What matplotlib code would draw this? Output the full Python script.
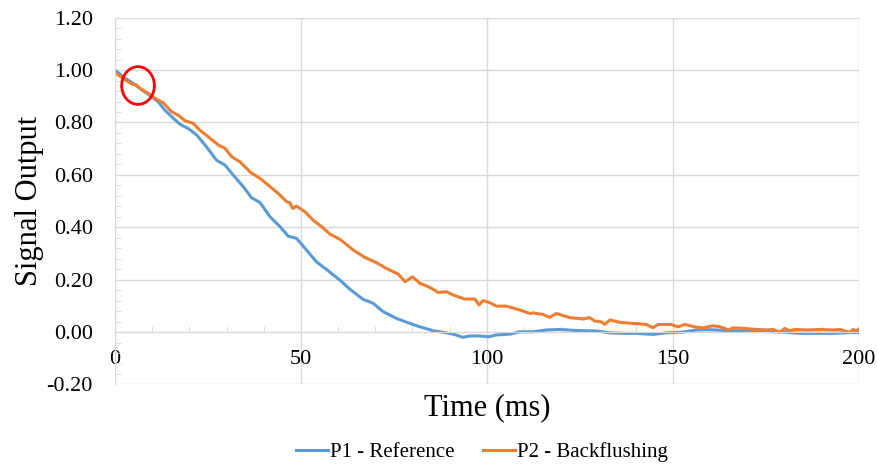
import matplotlib
matplotlib.use("Agg")
import matplotlib.pyplot as plt
from matplotlib.patches import Ellipse
from matplotlib.ticker import MultipleLocator, FormatStrFormatter

plt.rcParams['font.family'] = ['Liberation Serif', 'DejaVu Serif']
plt.rcParams['xtick.labelsize'] = 16
plt.rcParams['ytick.labelsize'] = 16

# P1 - Reference (time in ms, signal)
t_ref = [0, 2.2, 4.9, 7.6, 9.9, 11.6, 13.4, 15.7, 17.5, 19.7, 22, 24.6, 27.3, 29.6, 31.8,
         34.5, 36.7, 39, 41.7, 44.4, 46.6, 48.8, 51.5, 54.2, 57.3, 60.5, 63.2, 66.7, 69.4,
         72.1, 75.7, 79.3, 82, 85.6, 87.4, 91, 93.6, 95.4, 98.1, 100.4, 102.6, 106.2, 108.9,
         112.4, 116, 119.6, 124.1, 129.5, 133.1, 136.7, 140.2, 144.7, 148.3, 152.8, 156.4,
         160, 164, 166.2, 170.7, 175.2, 179.7, 184.1, 188.6, 193.1, 197.6, 200]
v_ref = [1.00, 0.974, 0.949, 0.921, 0.898, 0.879, 0.847, 0.816, 0.793, 0.777, 0.752, 0.707,
         0.656, 0.637, 0.599, 0.555, 0.513, 0.494, 0.440, 0.402, 0.366, 0.358, 0.313, 0.268,
         0.234, 0.198, 0.163, 0.125, 0.110, 0.078, 0.052, 0.033, 0.020, 0.005, 0.001, -0.008,
         -0.020, -0.015, -0.015, -0.018, -0.011, -0.008, 0.001, 0.001, 0.008, 0.010, 0.006,
         0.004, -0.003, -0.005, -0.005, -0.009, -0.003, 0.000, 0.008, 0.009, 0.006, 0.004,
         0.004, 0.002, 0.000, -0.005, -0.005, -0.005, -0.002, -0.002]

# P2 - Backflushing
t_bf = [0, 2.2, 4.5, 5.8, 6.7, 9, 11.2, 13, 15.2, 17, 18.8, 21, 22.8, 25.1, 27.8, 29.6,
        31.4, 33.6, 36.5, 39, 41.7, 43.9, 46.2, 47, 47.8, 48.8, 51.1, 53.3, 55.6, 57.8,
        60.5, 64.1, 67.2, 70.3, 73, 76.2, 78, 80, 82, 83.8, 85.6, 86.9, 89.2, 91, 94.1,
        96.8, 97.9, 99, 100.8, 102.6, 105.3, 108.9, 111.6, 112.4, 115.1, 116.9, 118.7,
        122.3, 125.9, 127.7, 129, 130.8, 131.7, 133.1, 135.8, 139.3, 142.9, 144.7, 146,
        149.5, 151.4, 153.2, 155.9, 158.1, 160.9, 162.7, 164, 164.9, 166.2, 168.9, 172.5,
        175.2, 177, 178.8, 180.1, 181.5, 182.8, 186, 189.6, 193.2, 195, 196.3, 197.6,
        198.5, 199.4, 200]
v_bf = [0.99, 0.968, 0.947, 0.943, 0.930, 0.911, 0.888, 0.875, 0.841, 0.828, 0.807, 0.797,
        0.771, 0.745, 0.714, 0.701, 0.669, 0.650, 0.609, 0.587, 0.555, 0.529, 0.497, 0.494,
        0.472, 0.481, 0.459, 0.427, 0.402, 0.374, 0.354, 0.313, 0.285, 0.265, 0.243, 0.221,
        0.192, 0.211, 0.186, 0.176, 0.163, 0.151, 0.154, 0.141, 0.126, 0.126, 0.103, 0.120,
        0.112, 0.099, 0.099, 0.084, 0.071, 0.073, 0.067, 0.056, 0.071, 0.055, 0.050, 0.055,
        0.042, 0.039, 0.029, 0.046, 0.037, 0.033, 0.029, 0.016, 0.029, 0.029, 0.020, 0.029,
        0.020, 0.016, 0.024, 0.020, 0.014, 0.008, 0.016, 0.014, 0.010, 0.008, 0.010, -0.001,
        0.014, 0.004, 0.010, 0.008, 0.010, 0.008, 0.010, 0.004, -0.001, 0.010, 0.004, 0.011]

grid_col = '#D9D9D9'

fig = plt.figure(figsize=(8.78, 4.66), dpi=100)
ax = fig.add_axes([0.131, 0.175, 0.847, 0.787])

ax.plot(t_ref, v_ref, color='#5B9BD5', lw=2.2, label='P1 - Reference')
ax.plot(t_bf, v_bf, color='#ED7D31', lw=2.2, label='P2 - Backflushing')

# red circle marking the start region
ax.add_patch(Ellipse((6.2, 0.941), 8.8, 0.144, fill=False, edgecolor='red', lw=2, zorder=5))

ax.set_xlim(0, 200)
ax.set_ylim(-0.2, 1.2)
ax.spines['bottom'].set_position(('data', 0))
ax.xaxis.set_major_locator(MultipleLocator(50))
ax.xaxis.set_minor_locator(MultipleLocator(10))
ax.yaxis.set_major_locator(MultipleLocator(0.2))
ax.yaxis.set_minor_locator(MultipleLocator(0.04))
ax.yaxis.set_major_formatter(FormatStrFormatter('%.2f'))

ax.grid(True, which='major', color=grid_col, lw=1)
ax.set_axisbelow(True)

for s in ['top', 'right']:
    ax.spines[s].set_visible(False)
ax.spines['bottom'].set_color(grid_col)
ax.spines['left'].set_color(grid_col)

ax.tick_params(axis='x', which='both', direction='in', color=grid_col, labelsize=16, pad=13)
ax.tick_params(axis='x', which='minor', length=4)
ax.tick_params(axis='x', which='major', length=0)
ax.tick_params(axis='y', which='both', direction='in', color=grid_col, labelsize=16, pad=16)
ax.tick_params(axis='y', which='minor', length=4)
ax.tick_params(axis='y', which='major', length=0)

ax.set_xlabel('Time (ms)', fontsize=22)
ax.set_ylabel('Signal Output', fontsize=22)
ax.xaxis.set_label_coords(0.5, -0.023)
ax.yaxis.set_label_coords(-0.096, 0.5)

fig.legend(loc='center', bbox_to_anchor=(0.549, 0.030), ncol=2, frameon=False,
           fontsize=15, handlelength=1.5, columnspacing=1.4, handletextpad=0.1)

fig.savefig('out.png', dpi=100)
